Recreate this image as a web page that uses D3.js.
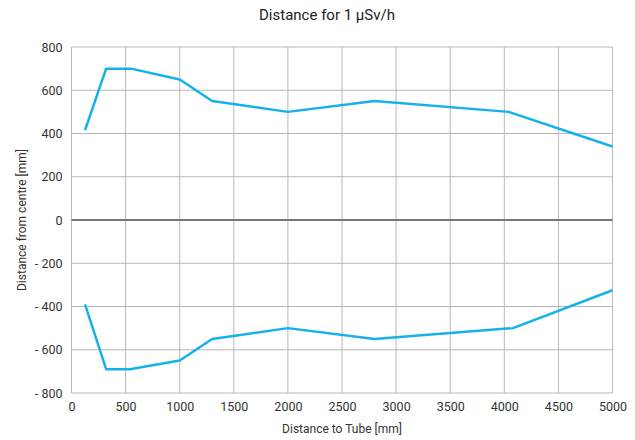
<!DOCTYPE html>
<html>
<head>
<meta charset="utf-8">
<script src="https://cdn.jsdelivr.net/npm/d3@7"></script>
<style>
	body { margin: 0; background: #fff; }
	text { font-family: Roboto, sans-serif; }
</style>
</head>
<body>
<div id="chart-area"></div>
<script>
// distance to tube [mm]
var upperX = [125, 320, 550, 1000, 1300, 2000, 2800, 4040, 5000];
var upperY = [415, 700, 700, 650, 550, 500, 550, 500, 340];
var lowerX = [125, 320, 540, 1000, 1300, 2000, 2800, 4080, 5000];
var lowerY = [-390, -690, -690, -650, -550, -500, -550, -500, -325];
var xTicks = [0, 500, 1000, 1500, 2000, 2500, 3000, 3500, 4000, 4500, 5000];
var yTicks = [-800, -600, -400, -200, 0, 200, 400, 600, 800];

var margins = { top: 47, bottom: 47, left: 71.5, right: 22.5 };
var totalW = 635, totalH = 440;
var width = totalW - margins.left - margins.right;
var height = totalH - margins.top - margins.bottom;

var svg = d3.select("#chart-area")
	.append("svg")
		.attr("width", totalW)
		.attr("height", totalH);

var g = svg.append("g")
	.attr("transform", `translate(${margins.left}, ${margins.top})`);

var x = d3.scaleLinear().domain([0, 5000]).range([0, width]);
var y = d3.scaleLinear().domain([-800, 800]).range([height, 0]);

// grid
g.selectAll(".vgrid").data(xTicks).enter()
	.append("line")
	.attr("x1", d => x(d)).attr("x2", d => x(d))
	.attr("y1", 0).attr("y2", height)
	.attr("stroke", "#b8b8b8").attr("stroke-width", 1);

g.selectAll(".hgrid").data(yTicks).enter()
	.append("line")
	.attr("x1", 0).attr("x2", width)
	.attr("y1", d => y(d)).attr("y2", d => y(d))
	.attr("stroke", d => d === 0 ? "#777" : "#b8b8b8")
	.attr("stroke-width", d => d === 0 ? 2 : 1);

// axes (labels only)
var fmt = d => d < 0 ? "- " + Math.abs(d) : "" + d;

var xAxis = g.append("g")
	.attr("transform", "translate(0," + height + ")")
	.call(d3.axisBottom(x).tickValues(xTicks).tickSize(0).tickPadding(9).tickFormat(d => d));
var yAxis = g.append("g")
	.call(d3.axisLeft(y).tickValues(yTicks).tickSize(0).tickPadding(9).tickFormat(fmt));

[xAxis, yAxis].forEach(a => {
	a.select(".domain").remove();
	a.selectAll("text")
		.attr("font-family", "Roboto, sans-serif")
		.attr("font-size", "12.5px")
		.attr("fill", "#333");
});

// lines
var line = d3.line().x(d => x(d[0])).y(d => y(d[1]));
[[upperX, upperY], [lowerX, lowerY]].forEach(s => {
	g.append("path")
		.datum(s[0].map((v, i) => [v, s[1][i]]))
		.attr("fill", "none")
		.attr("stroke", "#15b1ea")
		.attr("stroke-width", 2.5)
		.attr("stroke-linejoin", "round")
		.attr("d", line);
});

// titles
svg.append("text")
	.attr("x", 327).attr("y", 20)
	.attr("text-anchor", "middle")
	.attr("font-size", "15px")
	.attr("fill", "#222")
	.text("Distance for 1 µSv/h");

g.append("text")
	.attr("x", width / 2).attr("y", height + 40)
	.attr("text-anchor", "middle")
	.attr("font-size", "12px")
	.attr("fill", "#333")
	.text("Distance to Tube [mm]");

g.append("text")
	.attr("x", -height / 2).attr("y", -46)
	.attr("text-anchor", "middle")
	.attr("transform", "rotate(-90)")
	.attr("font-size", "12px")
	.attr("fill", "#333")
	.text("Distance from centre [mm]");
</script>
</body>
</html>
